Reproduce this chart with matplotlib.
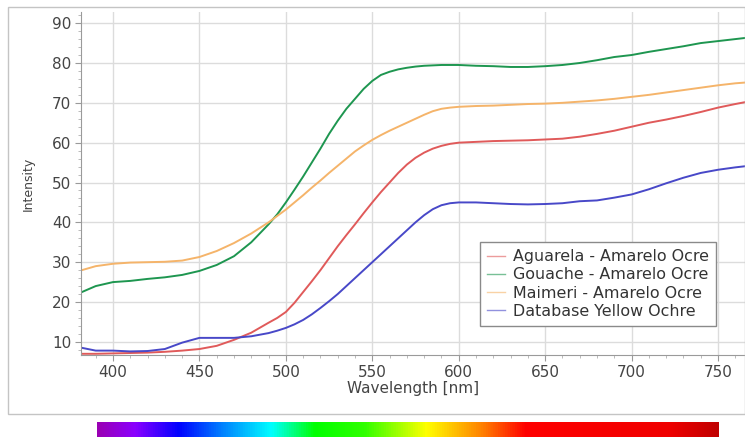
import matplotlib.pyplot as plt
import numpy as np
from matplotlib.colors import LinearSegmentedColormap
from matplotlib.patches import Rectangle
from matplotlib.ticker import MultipleLocator

# wavelength grid [nm] shared by all spectra (denser where the curves bend)
wavelength = [382, 390, 400, 410, 420, 430, 440, 450, 460, 470, 480, 490, 495, 500,
              505, 510, 515, 520, 525, 530, 535, 540, 545, 550, 555, 560, 565, 570,
              575, 580, 585, 590, 595, 600, 610, 620, 630, 640, 650, 660, 670, 680,
              690, 700, 710, 720, 730, 740, 750, 760, 766]

aguarela = [7.0, 7.0, 7.1, 7.2, 7.3, 7.5, 7.8, 8.2, 9.0, 10.5, 12.3, 14.8, 16.0, 17.5,
            19.8, 22.5, 25.2, 28.0, 31.0, 34.0, 36.8, 39.5, 42.3, 45.0, 47.6, 50.0, 52.4, 54.5,
            56.2, 57.5, 58.5, 59.2, 59.7, 60.0, 60.2, 60.4, 60.5, 60.6, 60.8, 61.0, 61.5, 62.2,
            63.0, 64.0, 65.0, 65.8, 66.7, 67.7, 68.8, 69.7, 70.2]

gouache = [22.5, 24.0, 25.0, 25.3, 25.8, 26.2, 26.8, 27.8, 29.3, 31.5, 35.0, 39.5, 42.0, 45.0,
           48.2, 51.5, 55.0, 58.5, 62.2, 65.5, 68.5, 71.0, 73.5, 75.5, 77.0, 77.8, 78.4, 78.8,
           79.1, 79.3, 79.4, 79.5, 79.5, 79.5, 79.3, 79.2, 79.0, 79.0, 79.2, 79.5, 80.0, 80.7,
           81.5, 82.0, 82.8, 83.5, 84.2, 85.0, 85.5, 86.0, 86.3]

maimeri = [28.0, 29.0, 29.6, 29.9, 30.0, 30.1, 30.4, 31.3, 32.8, 34.8, 37.2, 40.0, 41.6, 43.2,
           45.0, 46.8, 48.7, 50.5, 52.4, 54.2, 56.0, 57.8, 59.3, 60.7, 61.9, 63.0, 64.0, 65.0,
           66.0, 67.0, 67.9, 68.5, 68.8, 69.0, 69.2, 69.3, 69.5, 69.7, 69.8, 70.0, 70.3, 70.6,
           71.0, 71.5, 72.0, 72.6, 73.2, 73.8, 74.4, 74.9, 75.1]

database = [8.5, 7.8, 7.8, 7.6, 7.7, 8.2, 9.8, 11.0, 11.0, 11.0, 11.4, 12.2, 12.8, 13.5,
            14.4, 15.5, 16.9, 18.5, 20.2, 22.0, 24.0, 26.0, 28.0, 30.0, 32.0, 34.0, 36.0, 38.0,
            40.0, 41.8, 43.3, 44.3, 44.8, 45.0, 45.0, 44.8, 44.6, 44.5, 44.6, 44.8, 45.3, 45.5,
            46.2, 47.0, 48.3, 49.8, 51.2, 52.4, 53.2, 53.8, 54.1]

series = [
    ("Aguarela - Amarelo Ocre", aguarela, "#e05a5a"),
    ("Gouache - Amarelo Ocre", gouache, "#1e9650"),
    ("Maimeri - Amarelo Ocre", maimeri, "#f5b46a"),
    ("Database Yellow Ochre", database, "#4848c8"),
]

# visible spectrum strip under the chart
spectrum_pos = [0.0, 0.06, 0.13, 0.20, 0.28, 0.35, 0.43, 0.53, 0.62, 0.69, 0.92, 1.0]
spectrum_col = ["#9a00b4", "#8a00ff", "#0000ff", "#0080ff", "#00ffff", "#00ff00",
                "#30ff00", "#ffff00", "#ff8000", "#ff0000", "#f00000", "#c00000"]

W, H = 745, 437
fig = plt.figure(figsize=(W / 100, H / 100), dpi=100)

# light outer frame around the chart
fig.patches.append(Rectangle((8 / W, 1 - 414 / H), (W - 8.5) / W, 407 / H,
                             transform=fig.transFigure, fill=False,
                             edgecolor="#c4c4c4", linewidth=1))

ax = fig.add_axes([81 / W, 1 - 355 / H, (W - 81) / W, 343 / H])

for label, vals, color in series:
    ax.plot(wavelength, vals, color=color, linewidth=1.4, label=label)

ax.set_xlim(381.5, 765.6)
ax.set_ylim(6.7, 92.8)
ax.xaxis.set_major_locator(MultipleLocator(50))
ax.xaxis.set_minor_locator(MultipleLocator(10))
ax.yaxis.set_major_locator(MultipleLocator(10))
ax.yaxis.set_minor_locator(MultipleLocator(2))
ax.grid(True, which="major", color="#dcdcdc", linewidth=1)
ax.set_axisbelow(True)

for side in ("top", "right"):
    ax.spines[side].set_visible(False)
for side in ("left", "bottom"):
    ax.spines[side].set_color("#9a9a9a")

ax.tick_params(which="major", length=4, color="#9a9a9a", labelsize=11,
               labelcolor="#444444", pad=3)
ax.tick_params(which="minor", length=2, color="#b0b0b0")

ax.set_xlabel("Wavelength [nm]", fontsize=11, color="#444444", labelpad=1)
ax.set_ylabel("Intensity", fontsize=9, color="#444444", labelpad=12)

leg = ax.legend(loc="lower left", bbox_to_anchor=(0.601, 0.085), fontsize=11.4,
                frameon=True, fancybox=False, shadow=False, framealpha=1,
                edgecolor="#8a8a8a", handlelength=1.1, handletextpad=0.5,
                labelspacing=0.2, borderpad=0.45, borderaxespad=0)
leg.get_frame().set_linewidth(1)
for line in leg.get_lines():
    line.set_linewidth(1.0)
    line.set_alpha(0.6)
for txt in leg.get_texts():
    txt.set_color("#333333")

# spectrum bar
cmap = LinearSegmentedColormap.from_list("spectrum", list(zip(spectrum_pos, spectrum_col)))
sax = fig.add_axes([97 / W, 0, (719 - 97) / W, 15 / H])
sax.imshow(np.linspace(0, 1, 512)[None, :], cmap=cmap, aspect="auto")
sax.set_axis_off()

fig.savefig("out.png", dpi=100)
